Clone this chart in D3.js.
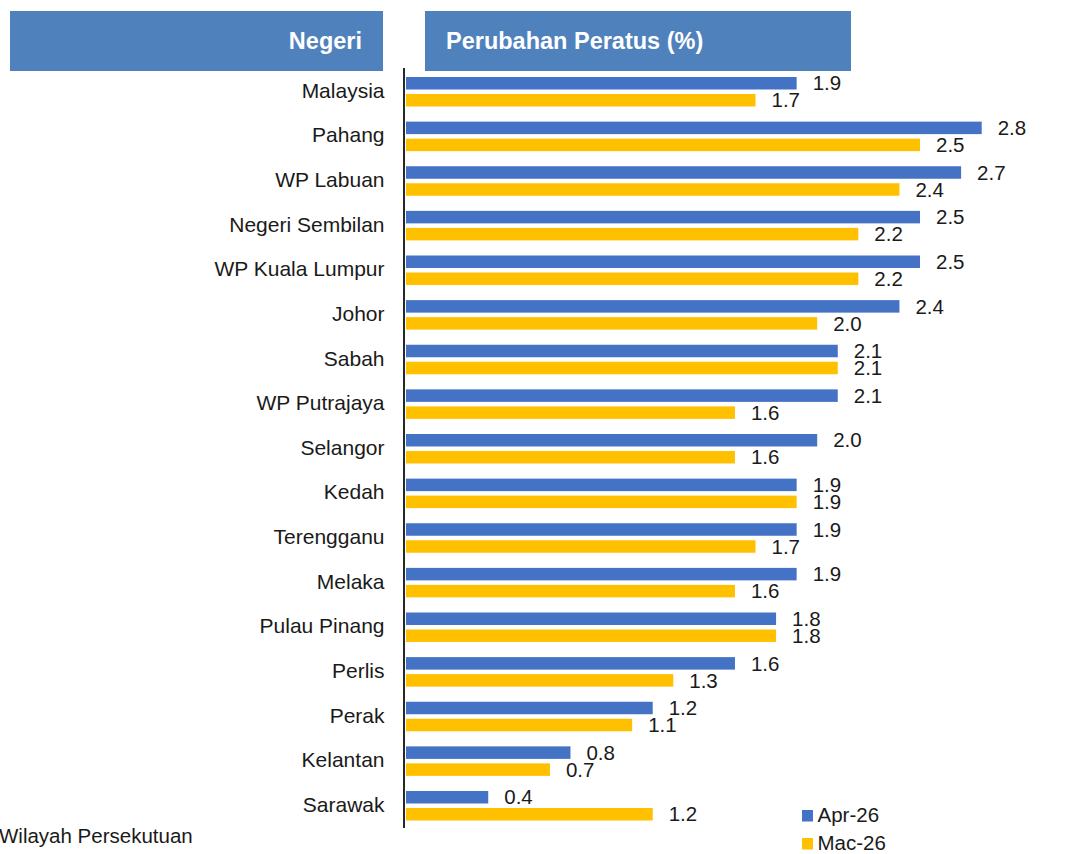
<!DOCTYPE html>
<meta charset="utf-8" />
<style>
  body {
    margin: 0;
    background: #fff;
  }
  svg {
    display: block;
    font-family: "Liberation Sans", Arial, sans-serif;
  }
  .header rect {
    fill: #4f81bd;
  }
  .header text {
    fill: #fff;
    font-weight: bold;
    font-size: 23.5px;
  }
  .cat text {
    font-size: 21px;
    fill: #1a1a1a;
  }
  .val text,
  .legend text,
  .note {
    font-size: 20.5px;
    fill: #1a1a1a;
  }
</style>

<svg width="1072" height="854"></svg>

<script src="https://d3js.org/d3.v7.min.js"></script>
<script>
  // data
  var negeri = [
    "Malaysia", "Pahang", "WP Labuan", "Negeri Sembilan", "WP Kuala Lumpur",
    "Johor", "Sabah", "WP Putrajaya", "Selangor", "Kedah", "Terengganu",
    "Melaka", "Pulau Pinang", "Perlis", "Perak", "Kelantan", "Sarawak"
  ];
  var apr26 = [1.9, 2.8, 2.7, 2.5, 2.5, 2.4, 2.1, 2.1, 2.0, 1.9, 1.9, 1.9, 1.8, 1.6, 1.2, 0.8, 0.4];
  var mac26 = [1.7, 2.5, 2.4, 2.2, 2.2, 2.0, 2.1, 1.6, 1.6, 1.9, 1.7, 1.6, 1.8, 1.3, 1.1, 0.7, 1.2];
  var siri = ["Apr-26", "Mac-26"];
  var warna = ["#4472c4", "#ffc000"];

  var svg = d3.select("svg");

  var rows = negeri.map(function (n, i) {
    return { name: n, vals: [apr26[i], mac26[i]] };
  });

  // scales
  var x = d3.scaleLinear().domain([0, 3]).range([406, 406 + 3 * 205.6]);
  var y = d3.scaleBand().domain(negeri).range([70.5, 70.5 + 17 * 44.625]).padding(0);
  var ys = d3.scaleBand().domain(siri).range([6.5, 36]).paddingInner(0.265);
  var col = d3.scaleOrdinal().domain(siri).range(warna);

  // header boxes
  var hdr = svg.append("g").attr("class", "header");
  hdr.append("rect").attr("x", 10).attr("y", 11).attr("width", 373).attr("height", 60);
  hdr.append("rect").attr("x", 425).attr("y", 11).attr("width", 426).attr("height", 60);
  hdr.append("text").attr("x", 362).attr("y", 49).attr("text-anchor", "end").text("Negeri");
  hdr.append("text").attr("x", 446).attr("y", 49).text("Perubahan Peratus (%)");

  // bars
  var grp = svg.append("g")
    .selectAll("g")
    .data(rows)
    .join("g")
    .attr("transform", function (d) { return "translate(0," + y(d.name) + ")"; });

  grp.selectAll("rect")
    .data(function (d) {
      return siri.map(function (s, k) { return { s: s, v: d.vals[k] }; });
    })
    .join("rect")
    .attr("x", x(0))
    .attr("y", function (d) { return ys(d.s); })
    .attr("width", function (d) { return x(d.v) - x(0); })
    .attr("height", ys.bandwidth())
    .attr("fill", function (d) { return col(d.s); });

  // value labels
  grp.append("g").attr("class", "val")
    .selectAll("text")
    .data(function (d) {
      return siri.map(function (s, k) { return { s: s, v: d.vals[k] }; });
    })
    .join("text")
    .attr("x", function (d) { return x(d.v) + 16; })
    .attr("y", function (d) { return ys(d.s) + ys.bandwidth() / 2; })
    .attr("dy", "0.35em")
    .text(function (d) { return d3.format(".1f")(d.v); });

  // category labels
  svg.append("g").attr("class", "cat")
    .selectAll("text")
    .data(negeri)
    .join("text")
    .attr("x", 384.5)
    .attr("y", function (d) { return y(d) + 20; })
    .attr("dy", "0.35em")
    .attr("text-anchor", "end")
    .text(function (d) { return d; });

  // axis line
  svg.append("line")
    .attr("x1", 404).attr("x2", 404)
    .attr("y1", 68).attr("y2", 828)
    .attr("stroke", "#111")
    .attr("stroke-width", 1.8);

  // legend
  var lg = svg.append("g").attr("class", "legend")
    .selectAll("g")
    .data(siri)
    .join("g")
    .attr("transform", function (d, i) { return "translate(802," + (810 + i * 28) + ")"; });
  lg.append("rect").attr("width", 11).attr("height", 11.5).attr("fill", function (d) { return col(d); });
  lg.append("text").attr("x", 15.5).attr("y", 12).text(function (d) { return d; });

  svg.append("text").attr("class", "note").attr("x", -1).attr("y", 843).text("Wilayah Persekutuan");
</script>
